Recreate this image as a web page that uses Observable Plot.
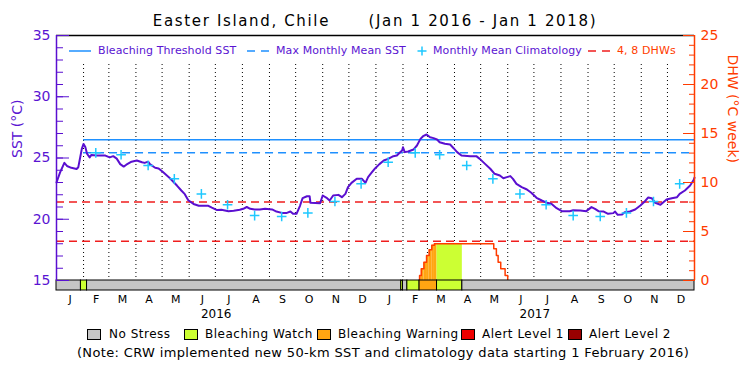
<!DOCTYPE html>
<html><head><meta charset="utf-8">
<script src="https://cdn.jsdelivr.net/npm/d3@7"></script>
<script src="https://cdn.jsdelivr.net/npm/@observablehq/plot@0.6"></script>
<style>
body{margin:0;background:#fff;font-family:"DejaVu Sans",sans-serif;}
#wrap{position:relative;width:750px;height:375px;overflow:hidden;}
#chart svg{display:block;}
.abs{position:absolute;white-space:pre;line-height:14px;}
#title{position:absolute;top:12px;left:0;width:750px;text-align:center;font-size:15px;letter-spacing:1.65px;line-height:18px;white-space:pre;color:#000;}
.sw{position:absolute;box-sizing:border-box;border:1px solid #000;width:14px;height:11px;}
#note{position:absolute;top:346px;left:0;width:766px;text-align:center;font-size:13px;letter-spacing:0.35px;line-height:14px;white-space:pre;color:#000;}
</style></head>
<body><div id="wrap"><div id="chart"></div></div>
<script>
// ---------------- data ----------------
const titleText = "Easter Island, Chile      (Jan 1 2016 - Jan 1 2018)";
const periodStart = "2016-01-01";
const periodEnd = "2018-01-01";
const thresholdStart = "2016-02-01";
const bleachingThreshold = 26.48;
const maxMonthlyMean = 25.43;
const dhwLevels = [4, 8];
const sstTicksMajor = [15, 20, 25, 30, 35];
const sstTicksMinor = d3.range(15, 36, 1);
const dhwTicksMajor = [0, 5, 10, 15, 20, 25];
const dhwTicksMinor = d3.range(0, 26, 1);
const monthLetters = ["J","F","M","A","M","J","J","A","S","O","N","D"];
const yearLabels = ["2016", "2017"];

const sstSeries = [
 ["2016-01-01",23.0],["2016-01-05",23.8],["2016-01-10",24.6],["2016-01-13",24.35],["2016-01-18",24.2],["2016-01-24",24.1],["2016-01-26",24.25],["2016-01-30",25.75],["2016-02-01",26.15],["2016-02-03",25.9],["2016-02-05",25.35],["2016-02-08",25.05],["2016-02-10",25.25],["2016-02-16",25.2],["2016-02-26",25.2],["2016-03-02",25.05],["2016-03-06",25.15],["2016-03-10",24.95],["2016-03-14",24.5],["2016-03-18",24.3],["2016-03-21",24.45],["2016-03-27",24.7],["2016-04-02",24.8],["2016-04-08",24.65],["2016-04-11",24.6],["2016-04-15",24.7],["2016-04-17",24.5],["2016-04-23",24.2],["2016-04-27",24.15],["2016-05-02",23.85],["2016-05-10",23.35],["2016-05-18",22.75],["2016-05-23",22.35],["2016-05-27",22.05],["2016-05-31",21.55],["2016-06-06",21.25],["2016-06-12",21.1],["2016-06-23",21.1],["2016-06-27",20.95],["2016-07-03",20.75],["2016-07-08",20.77],["2016-07-16",20.66],["2016-07-22",20.69],["2016-07-29",20.77],["2016-08-02",20.85],["2016-08-06",21.0],["2016-08-10",20.85],["2016-08-15",20.8],["2016-08-21",20.8],["2016-08-27",20.85],["2016-09-04",20.8],["2016-09-09",20.63],["2016-09-15",20.52],["2016-09-21",20.52],["2016-09-25",20.63],["2016-09-28",20.44],["2016-10-02",20.44],["2016-10-06",21.1],["2016-10-09",21.72],["2016-10-14",21.88],["2016-10-17",21.88],["2016-10-18",21.34],["2016-10-29",21.31],["2016-11-01",21.94],["2016-11-06",21.72],["2016-11-09",21.53],["2016-11-13",21.94],["2016-11-19",21.99],["2016-11-23",21.8],["2016-11-27",22.07],["2016-11-30",22.62],["2016-12-04",22.97],["2016-12-10",23.3],["2016-12-16",23.3],["2016-12-20",22.97],["2016-12-23",23.44],["2016-12-27",23.8],["2016-12-31",24.15],
 ["2017-01-05",24.5],["2017-01-10",24.8],["2017-01-15",24.93],["2017-01-21",25.15],["2017-01-25",25.2],["2017-01-27",25.34],["2017-01-31",25.61],["2017-02-01",25.88],["2017-02-03",25.48],["2017-02-07",25.53],["2017-02-13",25.69],["2017-02-17",26.02],["2017-02-21",26.56],["2017-02-24",26.78],["2017-02-28",26.92],["2017-03-04",26.7],["2017-03-08",26.62],["2017-03-12",26.51],["2017-03-15",26.29],["2017-03-21",26.16],["2017-03-27",26.1],["2017-03-31",25.8],["2017-04-04",25.48],["2017-04-09",25.2],["2017-04-19",25.15],["2017-04-26",25.15],["2017-04-30",24.93],["2017-05-06",24.52],["2017-05-12",24.12],["2017-05-17",23.71],["2017-05-23",23.57],["2017-05-27",23.35],["2017-05-31",23.44],["2017-06-04",23.52],["2017-06-07",23.3],["2017-06-11",22.89],["2017-06-17",22.62],["2017-06-23",22.43],["2017-06-28",22.16],["2017-07-04",21.75],["2017-07-10",21.53],["2017-07-16",21.34],["2017-07-21",21.26],["2017-07-27",20.9],["2017-08-02",20.66],["2017-08-11",20.66],["2017-08-15",20.74],["2017-08-23",20.71],["2017-08-30",20.66],["2017-09-05",20.99],["2017-09-09",20.85],["2017-09-13",20.66],["2017-09-19",20.63],["2017-09-24",20.44],["2017-09-30",20.5],["2017-10-02",20.63],["2017-10-05",20.36],["2017-10-10",20.39],["2017-10-13",20.58],["2017-10-19",20.63],["2017-10-25",20.8],["2017-10-31",21.12],["2017-11-05",21.45],["2017-11-09",21.78],["2017-11-13",21.72],["2017-11-17",21.34],["2017-11-23",21.18],["2017-11-30",21.61],["2017-12-06",21.72],["2017-12-12",21.8],["2017-12-15",22.07],["2017-12-21",22.35],["2017-12-27",22.75],["2017-12-31",23.2],["2018-01-01",23.4]
];

const climatology = [
 ["2016-02-15",25.42],["2016-03-15",25.26],["2016-04-15",24.39],["2016-05-15",23.30],["2016-06-15",22.07],["2016-07-15",21.18],["2016-08-15",20.30],["2016-09-15",20.22],["2016-10-15",20.52],["2016-11-15",21.45],["2016-12-15",22.89],
 ["2017-01-15",24.66],["2017-02-15",25.42],["2017-03-15",25.26],["2017-04-15",24.39],["2017-05-15",23.30],["2017-06-15",22.07],["2017-07-15",21.18],["2017-08-15",20.30],["2017-09-15",20.22],["2017-10-15",20.52],["2017-11-15",21.45],["2017-12-15",22.89]
];

const dhwSeries = [
 ["2017-02-20",0],["2017-02-20",0.5],["2017-02-22",1.2],["2017-02-25",1.85],["2017-02-28",2.55],["2017-03-03",3.15],["2017-03-06",3.6],["2017-03-09",3.75],["2017-05-16",3.25],["2017-05-19",2.55],["2017-05-21",1.85],["2017-05-24",1.2],["2017-05-29",0.5],["2017-06-01",0]
];

const stressPeriods = [
 ["2016-01-01","2016-01-29","No Stress"],
 ["2016-01-29","2016-02-05","Bleaching Watch"],
 ["2016-02-05","2017-01-30","No Stress"],
 ["2017-01-30","2017-02-01","Bleaching Watch"],
 ["2017-02-01","2017-02-06","No Stress"],
 ["2017-02-06","2017-02-20","Bleaching Watch"],
 ["2017-02-20","2017-03-12","Bleaching Warning"],
 ["2017-03-12","2017-04-10","Bleaching Watch"],
 ["2017-04-10","2018-01-01","No Stress"]
];

const stressLevels = ["No Stress","Bleaching Watch","Bleaching Warning","Alert Level 1","Alert Level 2"];
const stressColors = ["#c6c6c6","#ccff33","#ffa512","#ee0000","#990000"];
const topLegendLabels = ["Bleaching Threshold SST","Max Monthly Mean SST","Monthly Mean Climatology","4, 8 DHWs"];
const noteText = "(Note: CRW implemented new 50-km SST and climatology data starting 1 February 2016)";

// ---------------- styling ----------------
const purple = "#5a0fd0", textPurple = "#5a14d2", blue = "#1e90ff", cyan = "#1ec8ff", red = "#f01e1e", orangeRed = "#ff3c00";

// ---------------- derived ----------------
const parse = d3.utcParse("%Y-%m-%d");
const start = parse(periodStart), end = parse(periodEnd);
const yMin = sstTicksMajor[0], yMax = sstTicksMajor[sstTicksMajor.length - 1];
const dhwMax = dhwTicksMajor[dhwTicksMajor.length - 1];
const dhwToY = v => yMin + v * (yMax - yMin) / dhwMax;
const yToDhw = y => (y - yMin) * dhwMax / (yMax - yMin);
const colorOf = lvl => stressColors[stressLevels.indexOf(lvl)];
const monthStarts = d3.utcMonths(start, end);
const monthMids = monthStarts.map(m => new Date((+m + +d3.utcMonth.offset(m, 1)) / 2));

const dhwPts = dhwSeries.map(([d, v]) => ({date: parse(d), v}));
const fillRects = [];
for (let i = 0; i < dhwPts.length - 1; i++) {
  const a = dhwPts[i], b = dhwPts[i + 1];
  if (!(a.v > 0) || +b.date <= +a.date) continue;
  for (const [s, e, lvl] of stressPeriods) {
    if (lvl === "No Stress") continue;
    const x1 = new Date(Math.max(+a.date, +parse(s)));
    const x2 = new Date(Math.min(+b.date, +parse(e)));
    if (+x2 > +x1) fillRects.push({x1, x2, v: a.v, lvl});
  }
}

const chart = Plot.plot({
  width: 750, height: 375,
  marginTop: 35, marginBottom: 95, marginLeft: 56, marginRight: 56,
  style: {fontFamily: "DejaVu Sans, sans-serif", fontSize: "14px", background: "transparent", overflow: "visible"},
  x: {type: "utc", domain: [start, end]},
  y: {domain: [yMin, yMax]},
  marks: [
    Plot.ruleX(monthStarts.slice(1), {stroke: "#000", strokeDasharray: "1,3", insetTop: 29}),
    Plot.ruleY(dhwLevels, {y: d => dhwToY(d), stroke: red, strokeWidth: 1.5, strokeDasharray: "8,5"}),
    Plot.ruleY([bleachingThreshold], {x1: parse(thresholdStart), x2: end, stroke: blue, strokeWidth: 1.5}),
    Plot.ruleY([maxMonthlyMean], {x1: parse(thresholdStart), x2: end, stroke: blue, strokeWidth: 1.5, strokeDasharray: "8,5"}),
    Plot.rect(fillRects, {x1: "x1", x2: "x2", y1: () => yMin, y2: d => dhwToY(d.v), fill: d => colorOf(d.lvl)}),
    Plot.line(dhwPts, {x: "date", y: d => dhwToY(d.v), curve: "step-after", stroke: orangeRed, strokeWidth: 1.5}),
    Plot.line(sstSeries, {x: d => parse(d[0]), y: d => d[1], stroke: purple, strokeWidth: 2}),
    Plot.dot(climatology, {x: d => parse(d[0]), y: d => d[1], symbol: "plus", r: 3.2, stroke: cyan, strokeWidth: 1.5}),
    Plot.rect(stressPeriods, {x1: d => parse(d[0]), x2: d => parse(d[1]), y1: () => yMin, y2: () => yMin, insetBottom: -10, fill: d => colorOf(d[2]), stroke: "#000", strokeWidth: 1}),
    // frame lines
    Plot.ruleY([yMax], {stroke: "#000", strokeWidth: 1.5}),
    Plot.ruleX([start], {stroke: purple, strokeWidth: 1.5}),
    Plot.ruleX([end], {stroke: orangeRed, strokeWidth: 1.5}),
    // left axis
    Plot.axisY({anchor: "left", ticks: sstTicksMajor, tickSize: -13, tickPadding: 19, color: textPurple, fontSize: 14, tickFormat: d => String(d)}),
    Plot.axisY({anchor: "left", ticks: sstTicksMinor, tickSize: -7, color: purple, tickFormat: () => ""}),
    // right axis (DHW)
    Plot.axisY({anchor: "right", ticks: dhwTicksMajor.map(dhwToY), tickSize: -12, tickPadding: 18, color: orangeRed, fontSize: 14, tickFormat: y => String(Math.round(yToDhw(y)))}),
    Plot.axisY({anchor: "right", ticks: dhwTicksMinor.map(dhwToY), tickSize: -6, color: orangeRed, tickFormat: () => ""}),
    // x axis
    Plot.axisX({ticks: monthMids, tickSize: 0, tickPadding: 15, fontSize: 11, color: "#000", tickFormat: d => monthLetters[d.getUTCMonth()]}),
    Plot.text(yearLabels, {x: d => new Date(Date.UTC(+d, 6, 2)), frameAnchor: "bottom", lineAnchor: "middle", dy: 34, text: d => d, fontSize: 12, fill: "#000"}),
    // axis titles
    Plot.text(["SST (°C)"], {frameAnchor: "left", dx: -39, rotate: -90, text: d => d, fill: textPurple, fontSize: 14}),
    Plot.text(["DHW (°C week)"], {frameAnchor: "right", dx: 38, dy: 5, rotate: 90, text: d => d, fill: orangeRed, fontSize: 14})
  ]
});
document.getElementById("chart").appendChild(chart);

// ---------------- overlays: title, legends, note ----------------
const wrap = document.getElementById("wrap");
function add(html) { wrap.insertAdjacentHTML("beforeend", html); }
add(`<div id="title">${titleText}</div>`);

// in-plot legend
const lgTop = 44, lgFont = 11;
const sampleX = [69, 247, 416, 588], labelX = [98, 276, 433, 617];
const samples = [
  `<svg width="24" height="14"><line x1="0" x2="22" y1="7" y2="7" stroke="${blue}" stroke-width="1.5"/></svg>`,
  `<svg width="26" height="14"><line x1="0" x2="24" y1="7" y2="7" stroke="${blue}" stroke-width="1.5" stroke-dasharray="8,6"/></svg>`,
  `<svg width="12" height="14"><path d="M1.5,7H10.5M6,2.5V11.5" stroke="${cyan}" stroke-width="1.5"/></svg>`,
  `<svg width="26" height="14"><line x1="0" x2="24" y1="7" y2="7" stroke="${red}" stroke-width="1.5" stroke-dasharray="8,6"/></svg>`
];
topLegendLabels.forEach((lab, i) => {
  add(`<div class="abs" style="left:${sampleX[i]}px;top:${lgTop}px;height:14px">${samples[i]}</div>`);
  add(`<div class="abs" style="left:${labelX[i]}px;top:${lgTop}px;font-size:${lgFont}px;letter-spacing:0.1px;color:${i === 3 ? orangeRed : textPurple}">${lab}</div>`);
});

// bottom stress legend
const swX = [87, 184, 317, 461, 568], swTextX = [109, 205, 338, 482, 589];
stressLevels.forEach((lvl, i) => {
  add(`<div class="sw" style="left:${swX[i]}px;top:329px;background:${stressColors[i]}"></div>`);
  add(`<div class="abs" style="left:${swTextX[i]}px;top:327px;font-size:12px;letter-spacing:0.5px;color:#000">${lvl}</div>`);
});
add(`<div id="note">${noteText}</div>`);
</script>
</body></html>
